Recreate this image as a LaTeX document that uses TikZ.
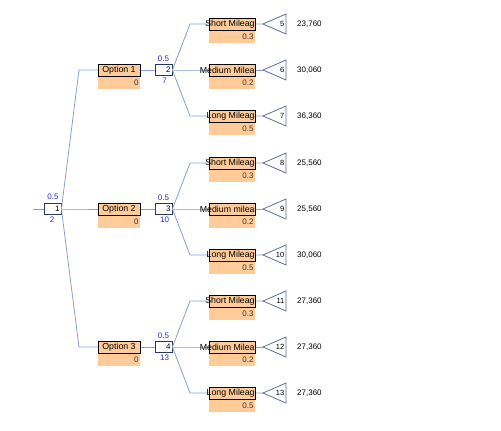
\documentclass[tikz,border=0pt]{standalone}
\usepackage{fontspec}
\setmainfont{Liberation Sans}
\definecolor{lnc}{RGB}{130,160,220}
\definecolor{boxc}{RGB}{40,55,90}
\definecolor{orng}{RGB}{255,204,153}
\definecolor{probc}{RGB}{35,45,225}
\definecolor{tric}{RGB}{95,110,145}
\definecolor{valc}{RGB}{60,50,40}
\begin{document}
\begin{tikzpicture}[x=1pt,y=-1pt,
  conn/.style={draw=lnc, line width=0.8pt},
  cbox/.style={draw=boxc, fill=white, line width=0.8pt, minimum width=17pt, minimum height=11pt,
    inner xsep=1.5pt, inner ysep=0pt, text width=14pt, align=right, font=\fontsize{8}{9}\selectfont},
  plab/.style={text=probc, inner sep=0pt, font=\fontsize{8}{9}\selectfont},
  namebox/.style={draw=black, fill=orng, line width=0.7pt, minimum height=12pt, inner sep=0pt},
  valbox/.style={fill=orng, minimum height=12pt, inner xsep=1.5pt, inner ysep=0pt, align=right,
    text=valc, font=\fontsize{8}{9}\selectfont, anchor=north},
  nametxt/.style={inner sep=0pt, anchor=east, font=\fontsize{8.8}{9}\selectfont},
  tri/.style={draw=tric, fill=white, line width=0.8pt},
  trinum/.style={inner sep=0pt, anchor=east, font=\fontsize{7.5}{8}\selectfont},
  payoff/.style={inner sep=0pt, anchor=west, font=\fontsize{8}{9}\selectfont}]
\useasboundingbox (0,0) rectangle (501,431);

% root
\coordinate (start) at (33,209);
\node[cbox] (n1) at (52.5,209) {1};
\node[plab] (n1p) at (53,197) {0.5};
\node[plab] (n1v) at (52,220) {2};
\draw[conn] (start) -- (n1.west);

% options
\foreach \k/\oy/\cn/\ca in {1/70/2/7, 2/209/3/10, 3/347/4/13}{
  \draw[conn] (n1.east) -- (79,\oy) -- (98,\oy);
  \draw[conn] (140,\oy) -- (155,\oy);
  \node[namebox, minimum width=42pt, font=\fontsize{8.8}{9}\selectfont] (o\k) at (119,\oy) {Option \k};
  \node[valbox, text width=39pt] (o\k v) at (o\k.south) {0};
  \node[cbox] (n\cn) at (163.5,\oy) {\cn};
  \node[plab] (n\cn p) at (163.5,\oy-11) {0.5};
  \node[plab] (n\cn v) at (164.5,\oy+11) {\ca};
}

% branches
\foreach \cn/\by/\t/\nm/\pr/\pay in {
  2/24/5/{Short Mileag}/0.3/{23,760},
  2/70/6/{Medium Milea}/0.2/{30,060},
  2/116/7/{Long Mileag}/0.5/{36,360},
  3/163/8/{Short Mileag}/0.3/{25,560},
  3/209/9/{Medium milea}/0.2/{25,560},
  3/255/10/{Long Mileag}/0.5/{30,060},
  4/301/11/{Short Mileag}/0.3/{27,360},
  4/347/12/{Medium Milea}/0.2/{27,360},
  4/393/13/{Long Mileag}/0.5/{27,360}}{
  \coordinate (t\t) at (263,\by);
  \draw[conn] (n\cn.east) -- (190,\by) -- (t\t);
  \node[namebox, minimum width=46pt] (b\t) at (232,\by) {};
  \node[nametxt] (b\t t) at ([xshift=-0.5pt]b\t.east) {\nm};
  \node[valbox, text width=43pt] (b\t v) at (b\t.south) {\pr};
  \draw[tri] (t\t) -- (286,\by-10) -- (286,\by+10) -- cycle;
  \node[trinum] (t\t n) at (284.5,\by) {\t};
  \node[payoff] (p\t) at (297,\by) {\pay};
}
\end{tikzpicture}
\end{document}
